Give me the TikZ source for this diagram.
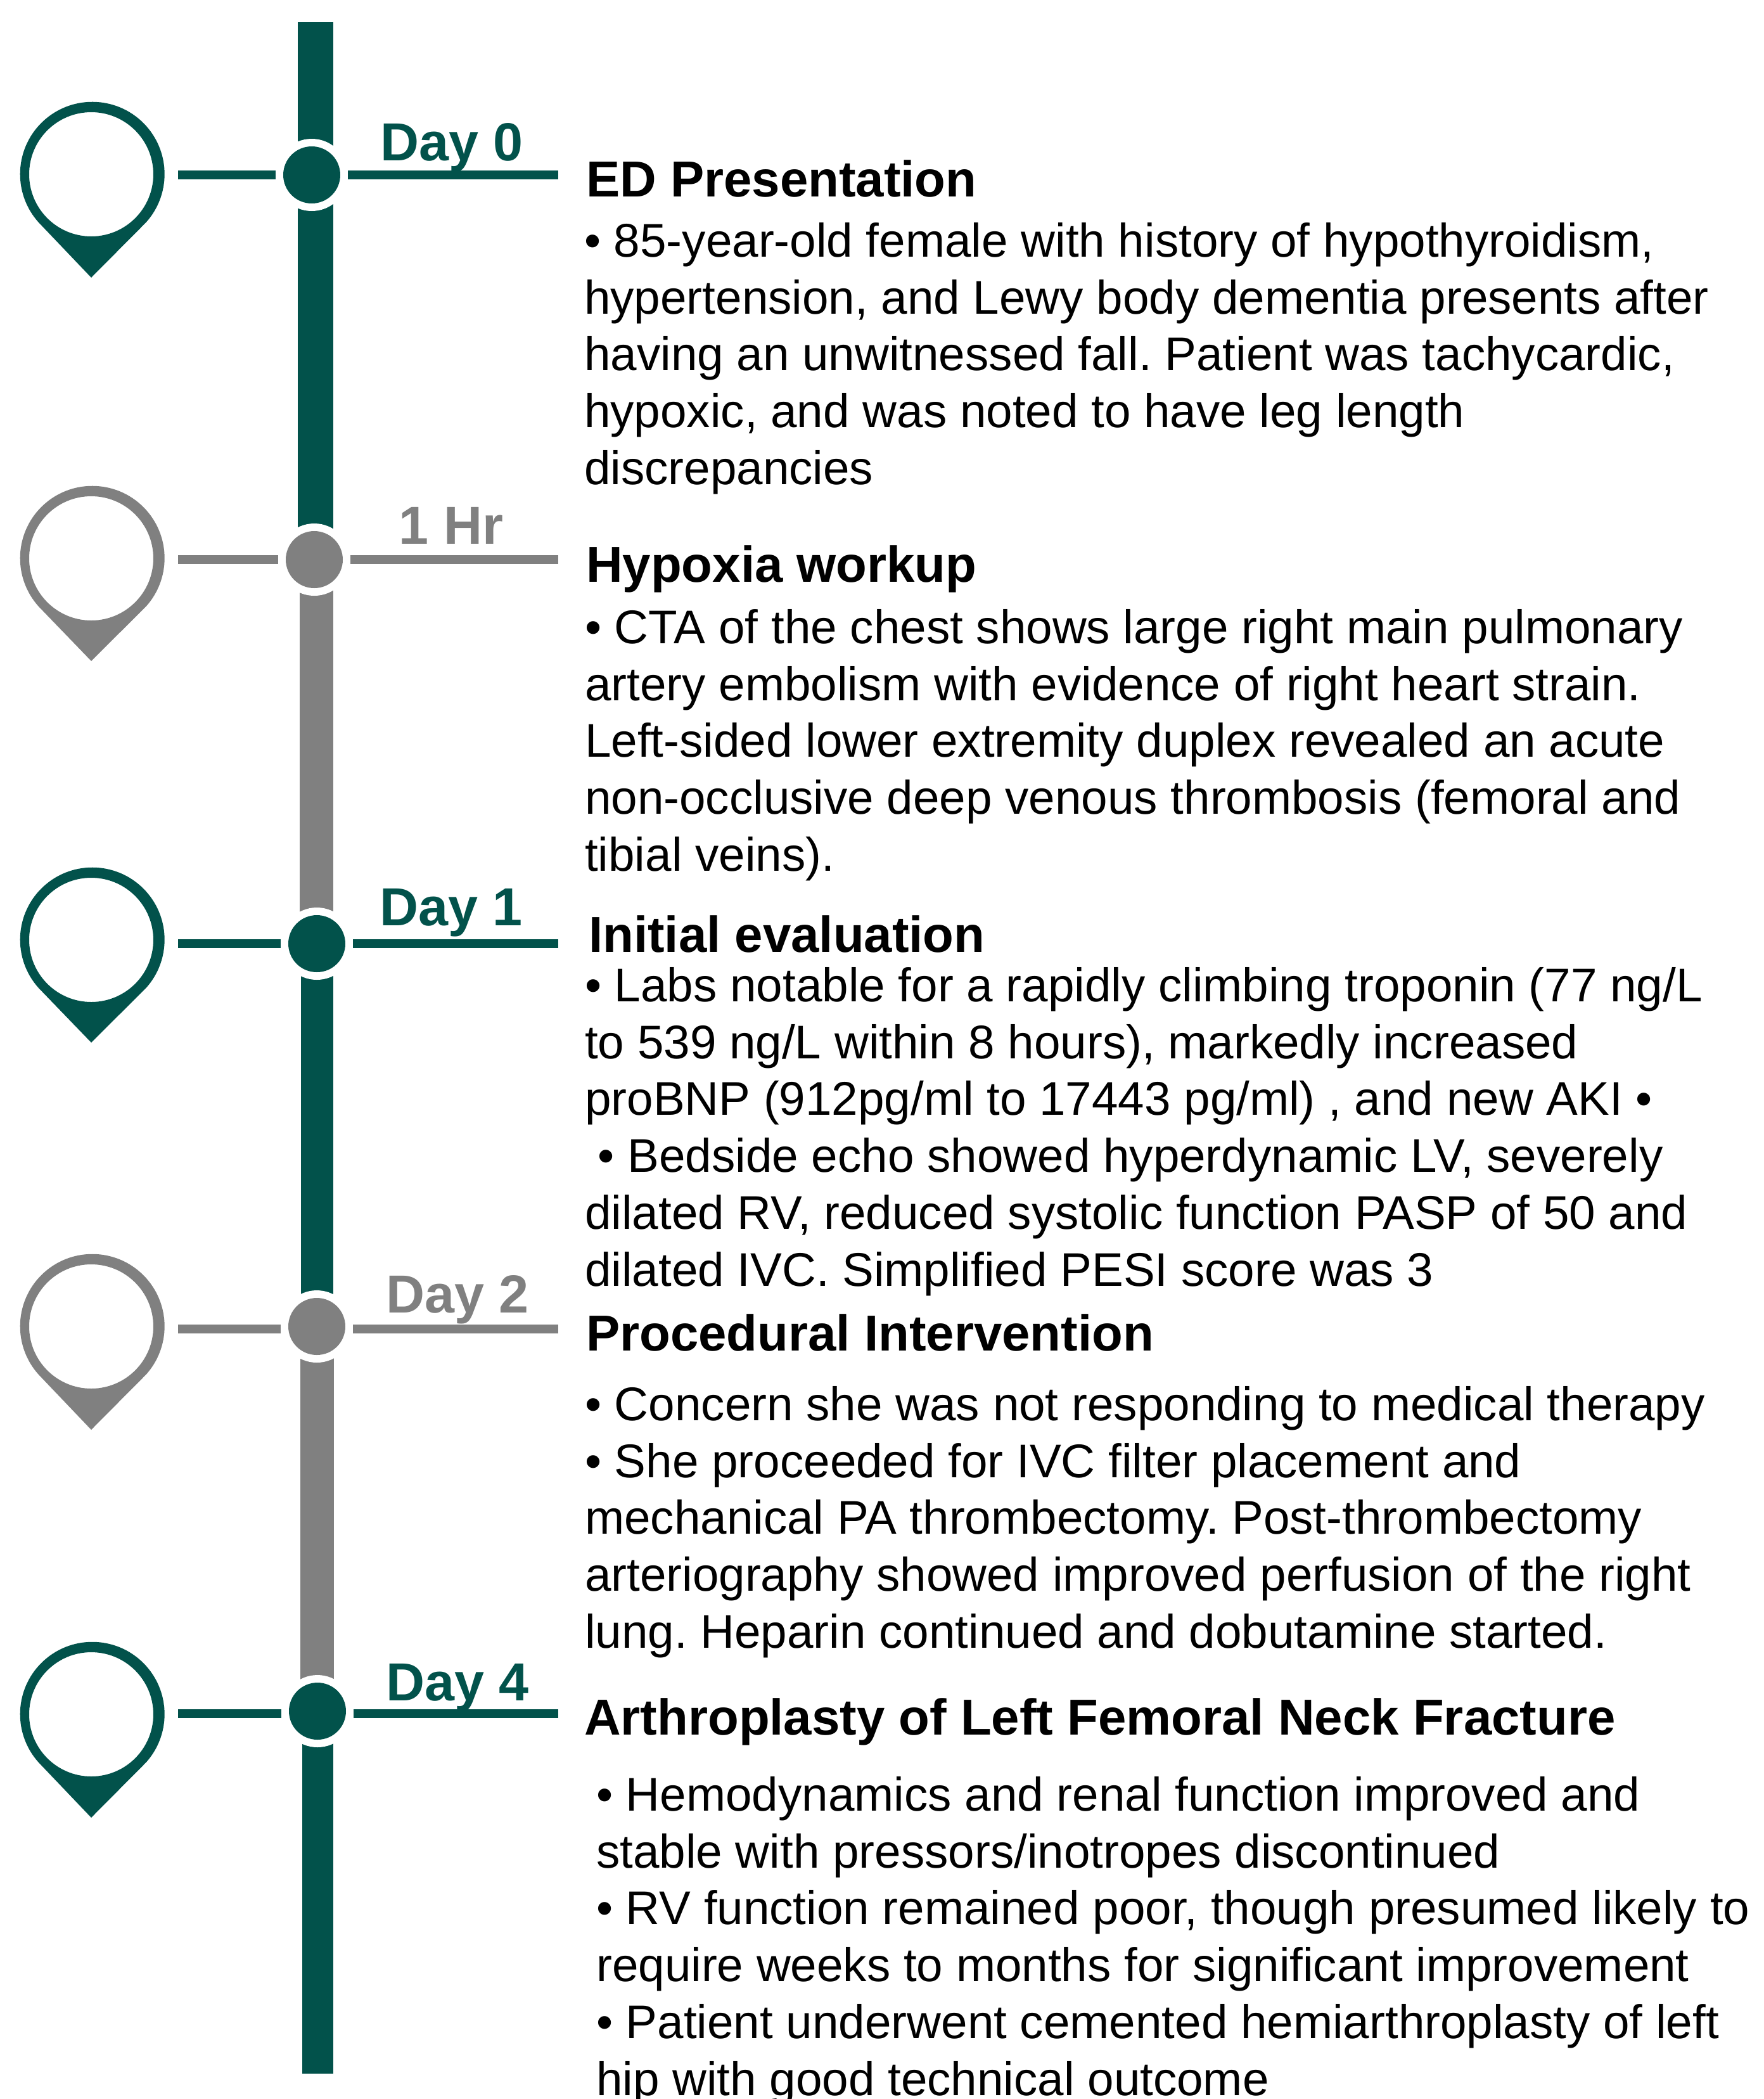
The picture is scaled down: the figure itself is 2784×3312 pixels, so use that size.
\documentclass[tikz,border=0pt]{standalone}
\usepackage{fontspec}
\setmainfont{Liberation Sans}
\frenchspacing
\definecolor{tealc}{HTML}{02524B}
\definecolor{grayc}{HTML}{808080}
\tikzset{x=1pt,y=-1pt,
 bodytext/.style={anchor=north west,inner sep=0pt,align=left,font=\fontsize{74.6}{89.8}\selectfont},
 headtext/.style={anchor=base west,inner sep=0pt,font=\fontsize{79.8}{90}\selectfont\bfseries},
 daytext/.style={anchor=base,inner sep=0pt,font=\fontsize{84.5}{90}\selectfont\bfseries},
 dot/.style={circle,minimum size=#1,inner sep=0pt},
 tickline/.style={line width=14.5pt},
}
\newcommand\firstline{\rule{0pt}{70pt}}
\newcommand\pinmark[4]{% name, colour, cy, tipy
 \coordinate (#1) at (144,#3);
 \fill[#2,even odd rule] (61,#3+76) arc[start angle=138,end angle=402,x radius=114,y radius=114] -- (144,#4) -- cycle
   (144,#3) circle[radius=98];
}
\newcommand\stopmark[5]{% name, colour, x, y, line y
 \fill[white] (#3,#4) circle[radius=57];
 \node[dot=90pt,fill=#2] (#1) at (#3,#4) {};
 \coordinate (#1a) at (281,#5);
 \coordinate (#1b) at (#3-57,#5);
 \coordinate (#1c) at (#3+57,#5);
 \coordinate (#1d) at (881,#5);
 \draw[#2,tickline] (#1a) -- (#1b);
 \draw[#2,tickline] (#1c) -- (#1d);
}
\begin{document}
\begin{tikzpicture}
\useasboundingbox (0,0) rectangle (2784,3312);
% bars
\fill[tealc] (470,35) rectangle (526,883);
\fill[grayc] (473,883) rectangle (526,1489);
\fill[tealc] (475,1489) rectangle (526,2093);
\fill[grayc] (474,2093) rectangle (527,2700);
\fill[tealc] (477,2700) rectangle (526,3272);
% pins
\pinmark{p0}{tealc}{275}{438}
\pinmark{p1}{grayc}{881}{1043}
\pinmark{p2}{tealc}{1483}{1645}
\pinmark{p3}{grayc}{2093}{2256}
\pinmark{p4}{tealc}{2705}{2868}
% stops
\stopmark{s0}{tealc}{492}{276}{276}
\stopmark{s1}{grayc}{496}{883}{883}
\stopmark{s2}{tealc}{500}{1489}{1489}
\stopmark{s3}{grayc}{500}{2093}{2097}
\stopmark{s4}{tealc}{501}{2700}{2704}
% day labels
\node[daytext,text=tealc] (d0) at (713,253) {Day 0};
\node[daytext,text=grayc] (d1) at (712,858) {1 Hr};
\node[daytext,text=tealc] (d2) at (712,1460) {Day 1};
\node[daytext,text=grayc] (d3) at (722,2071) {Day 2};
\node[daytext,text=tealc] (d4) at (722,2683) {Day 4};
% headings
\node[headtext] (h0) at (925,310) {ED Presentation};
\node[headtext] (h1) at (925,918) {Hypoxia workup};
\node[headtext] (h2) at (929,1502) {Initial evaluation};
\node[headtext] (h3) at (925,2131) {Procedural Intervention};
\node[headtext] (h4) at (922,2737) {Arthroplasty of Left Femoral Neck Fracture};
% bodies
\node[bodytext] (b0) at (922,335) {\firstline• 85-year-old female with history of hypothyroidism,\\hypertension, and Lewy body dementia presents after\\having an unwitnessed fall. Patient was tachycardic,\\hypoxic, and was noted to have leg length\\discrepancies};
\node[bodytext] (b1) at (923,945) {\firstline• CTA of the chest shows large right main pulmonary\\artery embolism with evidence of right heart strain.\\Left-sided lower extremity duplex revealed an acute\\non-occlusive deep venous thrombosis (femoral and\\tibial veins).};
\node[bodytext] (b2) at (923,1510) {\firstline• Labs notable for a rapidly climbing troponin (77 ng/L\\to 539 ng/L within 8 hours), markedly increased\\proBNP (912pg/ml to 17443 pg/ml) , and new AKI •\\\ • Bedside echo showed hyperdynamic LV, severely\\dilated RV, reduced systolic function PASP of 50 and\\dilated IVC. Simplified PESI score was 3};
\node[bodytext] (b3) at (923,2171) {\firstline• Concern she was not responding to medical therapy\\• She proceeded for IVC filter placement and\\mechanical PA thrombectomy. Post-thrombectomy\\arteriography showed improved perfusion of the right\\lung. Heparin continued and dobutamine started.};
\node[bodytext] (b4) at (941,2787) {\firstline• Hemodynamics and renal function improved and\\stable with pressors/inotropes discontinued\\• RV function remained poor, though presumed likely to\\require weeks to months for significant improvement\\• Patient underwent cemented hemiarthroplasty of left\\hip with good technical outcome};
\end{tikzpicture}
\end{document}
